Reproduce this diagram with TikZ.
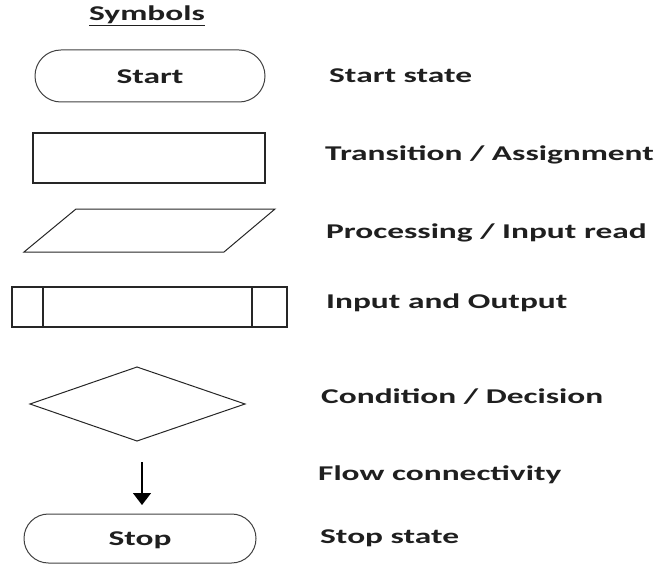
\documentclass[tikz,border=0pt]{standalone}
\usepackage{fontspec}
\setmainfont{Carlito}
\usetikzlibrary{arrows.meta}
\newcommand{\widetxt}[1]{\scalebox{1.59}[1]{#1}}
\begin{document}
\begin{tikzpicture}[x=1pt,y=-1pt,
  shp/.style={draw=black!85,line width=1.3pt},
  lbl/.style={anchor=west,inner sep=0pt,font=\bfseries\fontsize{21}{24}\selectfont,text=black!88},
  inlbl/.style={inner sep=0pt,font=\bfseries\fontsize{21}{24}\selectfont,text=black!88}]
\useasboundingbox (0,0) rectangle (655,564);
\node[inlbl] (title) at (147,16) {\widetxt{\underline{Symbols}}};
% start
\draw[shp,line width=1pt,draw=black!75,rounded corners=25.9pt] (35,50) rectangle (265,102);
\node[inlbl] (start) at (150,77) {\widetxt{Start}};
% rectangle
\node[shp,draw,minimum width=232pt,minimum height=50pt,inner sep=0pt] (rect) at (149,158) {};
% parallelogram
\draw[shp,line width=1pt] (76,209) -- (275,209) -- (224,252) -- (24,252) -- cycle;
% io box
\draw[shp] (12,287) rectangle (287,327);
\draw[shp] (43,287) -- (43,327);
\draw[shp] (252,287) -- (252,327);
% diamond
\draw[shp,line width=1pt] (137,367) -- (245,404) -- (137,441) -- (30,404) -- cycle;
% arrow
\coordinate (a1) at (142,462);
\coordinate (a2) at (142,505);
\draw[line width=1.3pt,-{Triangle[length=12pt,width=18pt]}] (a1) -- (a2);
% stop
\draw[shp,line width=1pt,draw=black!75,rounded corners=24.4pt] (24,514) rectangle (256,563);
\node[inlbl] (stop) at (140,540) {\widetxt{Stop}};
% labels
\node[lbl] (l1) at (329,76) {\widetxt{Start state}};
\node[lbl] (l2) at (325,155) {\widetxt{Transition / Assignment}};
\node[lbl] (l3) at (326,233) {\widetxt{Processing / Input read}};
\node[lbl] (l4) at (326,303) {\widetxt{Input and Output}};
\node[lbl] (l5) at (321,397) {\widetxt{Condition / Decision}};
\node[lbl] (l6) at (318,475) {\widetxt{Flow connectivity}};
\node[lbl] (l7) at (320,538) {\widetxt{Stop state}};
\end{tikzpicture}
\end{document}
